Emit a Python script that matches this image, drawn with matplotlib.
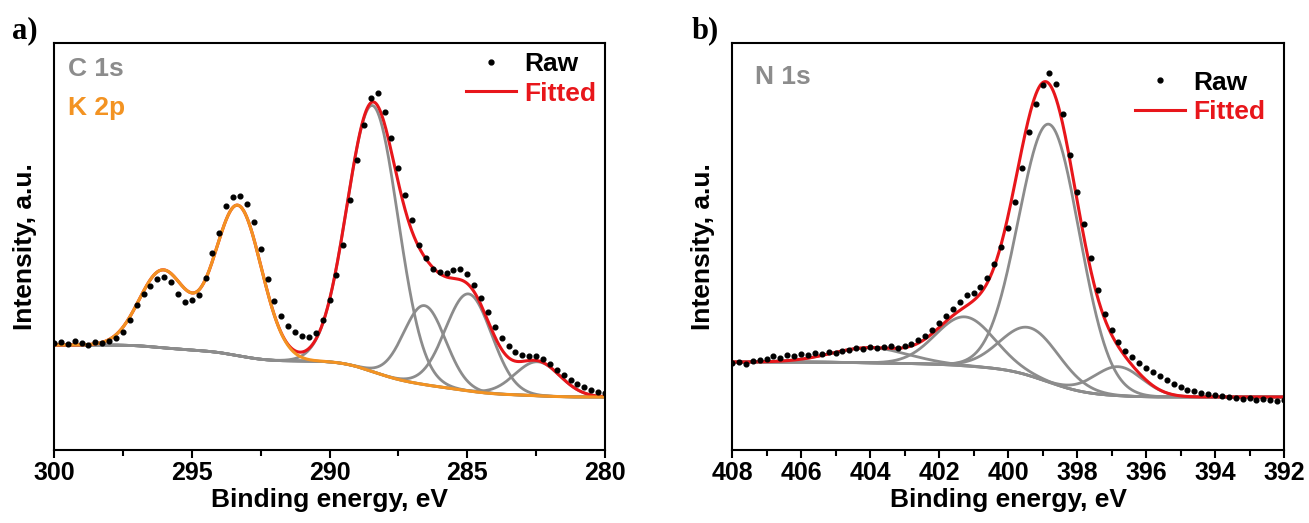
import numpy as np
import matplotlib
matplotlib.use('Agg')
import matplotlib.pyplot as plt
from matplotlib.lines import Line2D
from matplotlib.ticker import MultipleLocator

plt.rcParams['font.family'] = ['Liberation Sans', 'DejaVu Sans']
plt.rcParams['font.weight'] = 'bold'
plt.rcParams['axes.labelweight'] = 'bold'

GRAY = '#8c8c8c'
RED = '#e8161b'
ORANGE = '#f39322'

# ---- panel a: C 1s / K 2p (intensity in arbitrary units) ----
energy_a = np.linspace(300.0, 280.0, 81)  # 0.25 eV steps
raw_a = [107, 108, 106, 109, 107, 105, 108, 107, 109, 112,
         118, 130, 145, 156, 164, 171, 173, 168, 156, 148,
         150, 155, 172, 197, 217, 244, 253, 254, 246, 228,
         201, 171, 149, 134, 124, 118, 114, 113, 117, 130,
         150, 175, 205, 250, 290, 325, 352, 357, 338, 312,
         282, 255, 230, 205, 192, 181, 178, 177, 180, 181,
         176, 165, 152, 138, 123, 112, 104, 98, 95, 94,
         94, 91, 86, 80, 75, 70, 66, 63, 60, 58, 57]

c1s_center = [288.43, 286.55, 284.95, 282.45]
c1s_height = [266, 79, 97, 34]
c1s_sigma = [0.92, 0.76, 0.84, 0.82]

k2p_center = [296.05, 293.32]
k2p_height = [77, 150]
k2p_sigma = [0.85, 0.85]

bg_low_a = 53
bg_step_c1s = 36
bg_step_k2p = 16

# ---- panel b: N 1s ----
energy_b = np.linspace(408.0, 392.0, 81)  # 0.2 eV steps
raw_b = [87, 88, 86, 89, 90, 91, 94, 92, 95, 94,
         96, 95, 97, 96, 98, 97, 99, 100, 102, 101,
         103, 102, 103, 104, 102, 104, 106, 110, 114, 120,
         127, 134, 141, 148, 155, 157, 163, 172, 186, 203,
         222, 248, 282, 318, 346, 365, 377, 366, 336, 295,
         258, 226, 192, 160, 136, 120, 108, 99, 93, 87,
         82, 78, 74, 70, 66, 63, 60, 59, 57, 56,
         55, 54, 53, 52, 51, 52, 50, 51, 50, 49, 50]

n1s_center = [404.0, 401.25, 399.35, 398.8, 396.8]
n1s_height = [15, 49, 48, 258, 29]
n1s_sigma = [1.1, 0.85, 0.85, 0.88, 0.7]

bg_low_b = 53
bg_step_b = 35


def gauss(x, c, h, s):
    return h * np.exp(-(x - c) ** 2 / (2 * s ** 2))


def shirley_fraction(peak_sum):
    # cumulative share of peak area from the low binding-energy side
    cum = np.cumsum(peak_sum)
    return cum / cum[-1]


def style_axes(ax, lo, hi, major, minor):
    ax.set_xlim(hi, lo)
    ax.set_ylim(0, 407)
    ax.set_yticks([])
    ax.xaxis.set_major_locator(MultipleLocator(major))
    ax.xaxis.set_minor_locator(MultipleLocator(minor))
    ax.tick_params(axis='x', which='major', direction='out', length=6,
                   width=1.5, labelsize=18, pad=2)
    ax.tick_params(axis='x', which='minor', direction='out', length=4,
                   width=1.5)
    for sp in ax.spines.values():
        sp.set_linewidth(1.5)
    ax.set_xlabel('Binding energy, eV', fontsize=19, labelpad=2)
    ax.set_ylabel('Intensity, a.u.', fontsize=19, labelpad=12)


def add_legend(ax, x_anchor, y_anchor):
    handles = [Line2D([], [], marker='o', ls='none', color='black', ms=3.5),
               Line2D([], [], color=RED, lw=2.2)]
    ax.legend(handles, ['Raw', 'Fitted'], loc='upper right',
              bbox_to_anchor=(x_anchor, y_anchor), frameon=False, fontsize=19,
              labelcolor=['black', RED], handlelength=1.9,
              handletextpad=0.3, labelspacing=0.2, borderpad=0.1,
              borderaxespad=0.25)


fig = plt.figure(figsize=(13.09, 5.23), dpi=100)
ax_a = fig.add_axes([54 / 1309, 73 / 523, 551 / 1309, 407 / 523])
ax_b = fig.add_axes([732 / 1309, 73 / 523, 552 / 1309, 407 / 523])

# panel a curves
ea = np.linspace(280, 300, 2001)
c1s_peaks = [gauss(ea, c, h, s) for c, h, s in zip(c1s_center, c1s_height, c1s_sigma)]
k2p_peaks = [gauss(ea, c, h, s) for c, h, s in zip(k2p_center, k2p_height, k2p_sigma)]
bg_a = (bg_low_a + bg_step_c1s * shirley_fraction(sum(c1s_peaks))
        + bg_step_k2p * shirley_fraction(sum(k2p_peaks)))

ax_a.plot(ea, bg_a, color=GRAY, lw=2)
for p in c1s_peaks:
    ax_a.plot(ea, bg_a + p, color=GRAY, lw=2)
ax_a.plot(ea, bg_a + sum(c1s_peaks) + sum(k2p_peaks), color=RED, lw=2.2)
ax_a.plot(ea, bg_a + sum(k2p_peaks), color=ORANGE, lw=2.2)
ax_a.plot(energy_a, raw_a, 'o', color='black', ms=3.4, zorder=5)

style_axes(ax_a, 280, 300, 5, 2.5)
ax_a.text(0.025, 0.965, 'C 1s', transform=ax_a.transAxes, color=GRAY,
          fontsize=19, va='top')
ax_a.text(0.025, 0.87, 'K 2p', transform=ax_a.transAxes, color=ORANGE,
          fontsize=19, va='top')
add_legend(ax_a, 1.0, 1.0)

# panel b curves
eb = np.linspace(392, 408, 1601)
n1s_peaks = [gauss(eb, c, h, s) for c, h, s in zip(n1s_center, n1s_height, n1s_sigma)]
bg_b = bg_low_b + bg_step_b * shirley_fraction(sum(n1s_peaks))

ax_b.plot(eb, bg_b, color=GRAY, lw=2)
for p in n1s_peaks:
    ax_b.plot(eb, bg_b + p, color=GRAY, lw=2)
ax_b.plot(eb, bg_b + sum(n1s_peaks), color=RED, lw=2.2)
ax_b.plot(energy_b, raw_b, 'o', color='black', ms=3.4, zorder=5)

style_axes(ax_b, 392, 408, 2, 1)
ax_b.text(0.042, 0.945, 'N 1s', transform=ax_b.transAxes, color=GRAY,
          fontsize=19, va='top')
add_legend(ax_b, 0.982, 0.955)

fig.text(12 / 1309, 1 - 16 / 523, 'a)', fontsize=22, fontweight='bold',
         family='Liberation Serif', va='top')
fig.text(692 / 1309, 1 - 16 / 523, 'b)', fontsize=22, fontweight='bold',
         family='Liberation Serif', va='top')

fig.savefig('out.png', dpi=100)
